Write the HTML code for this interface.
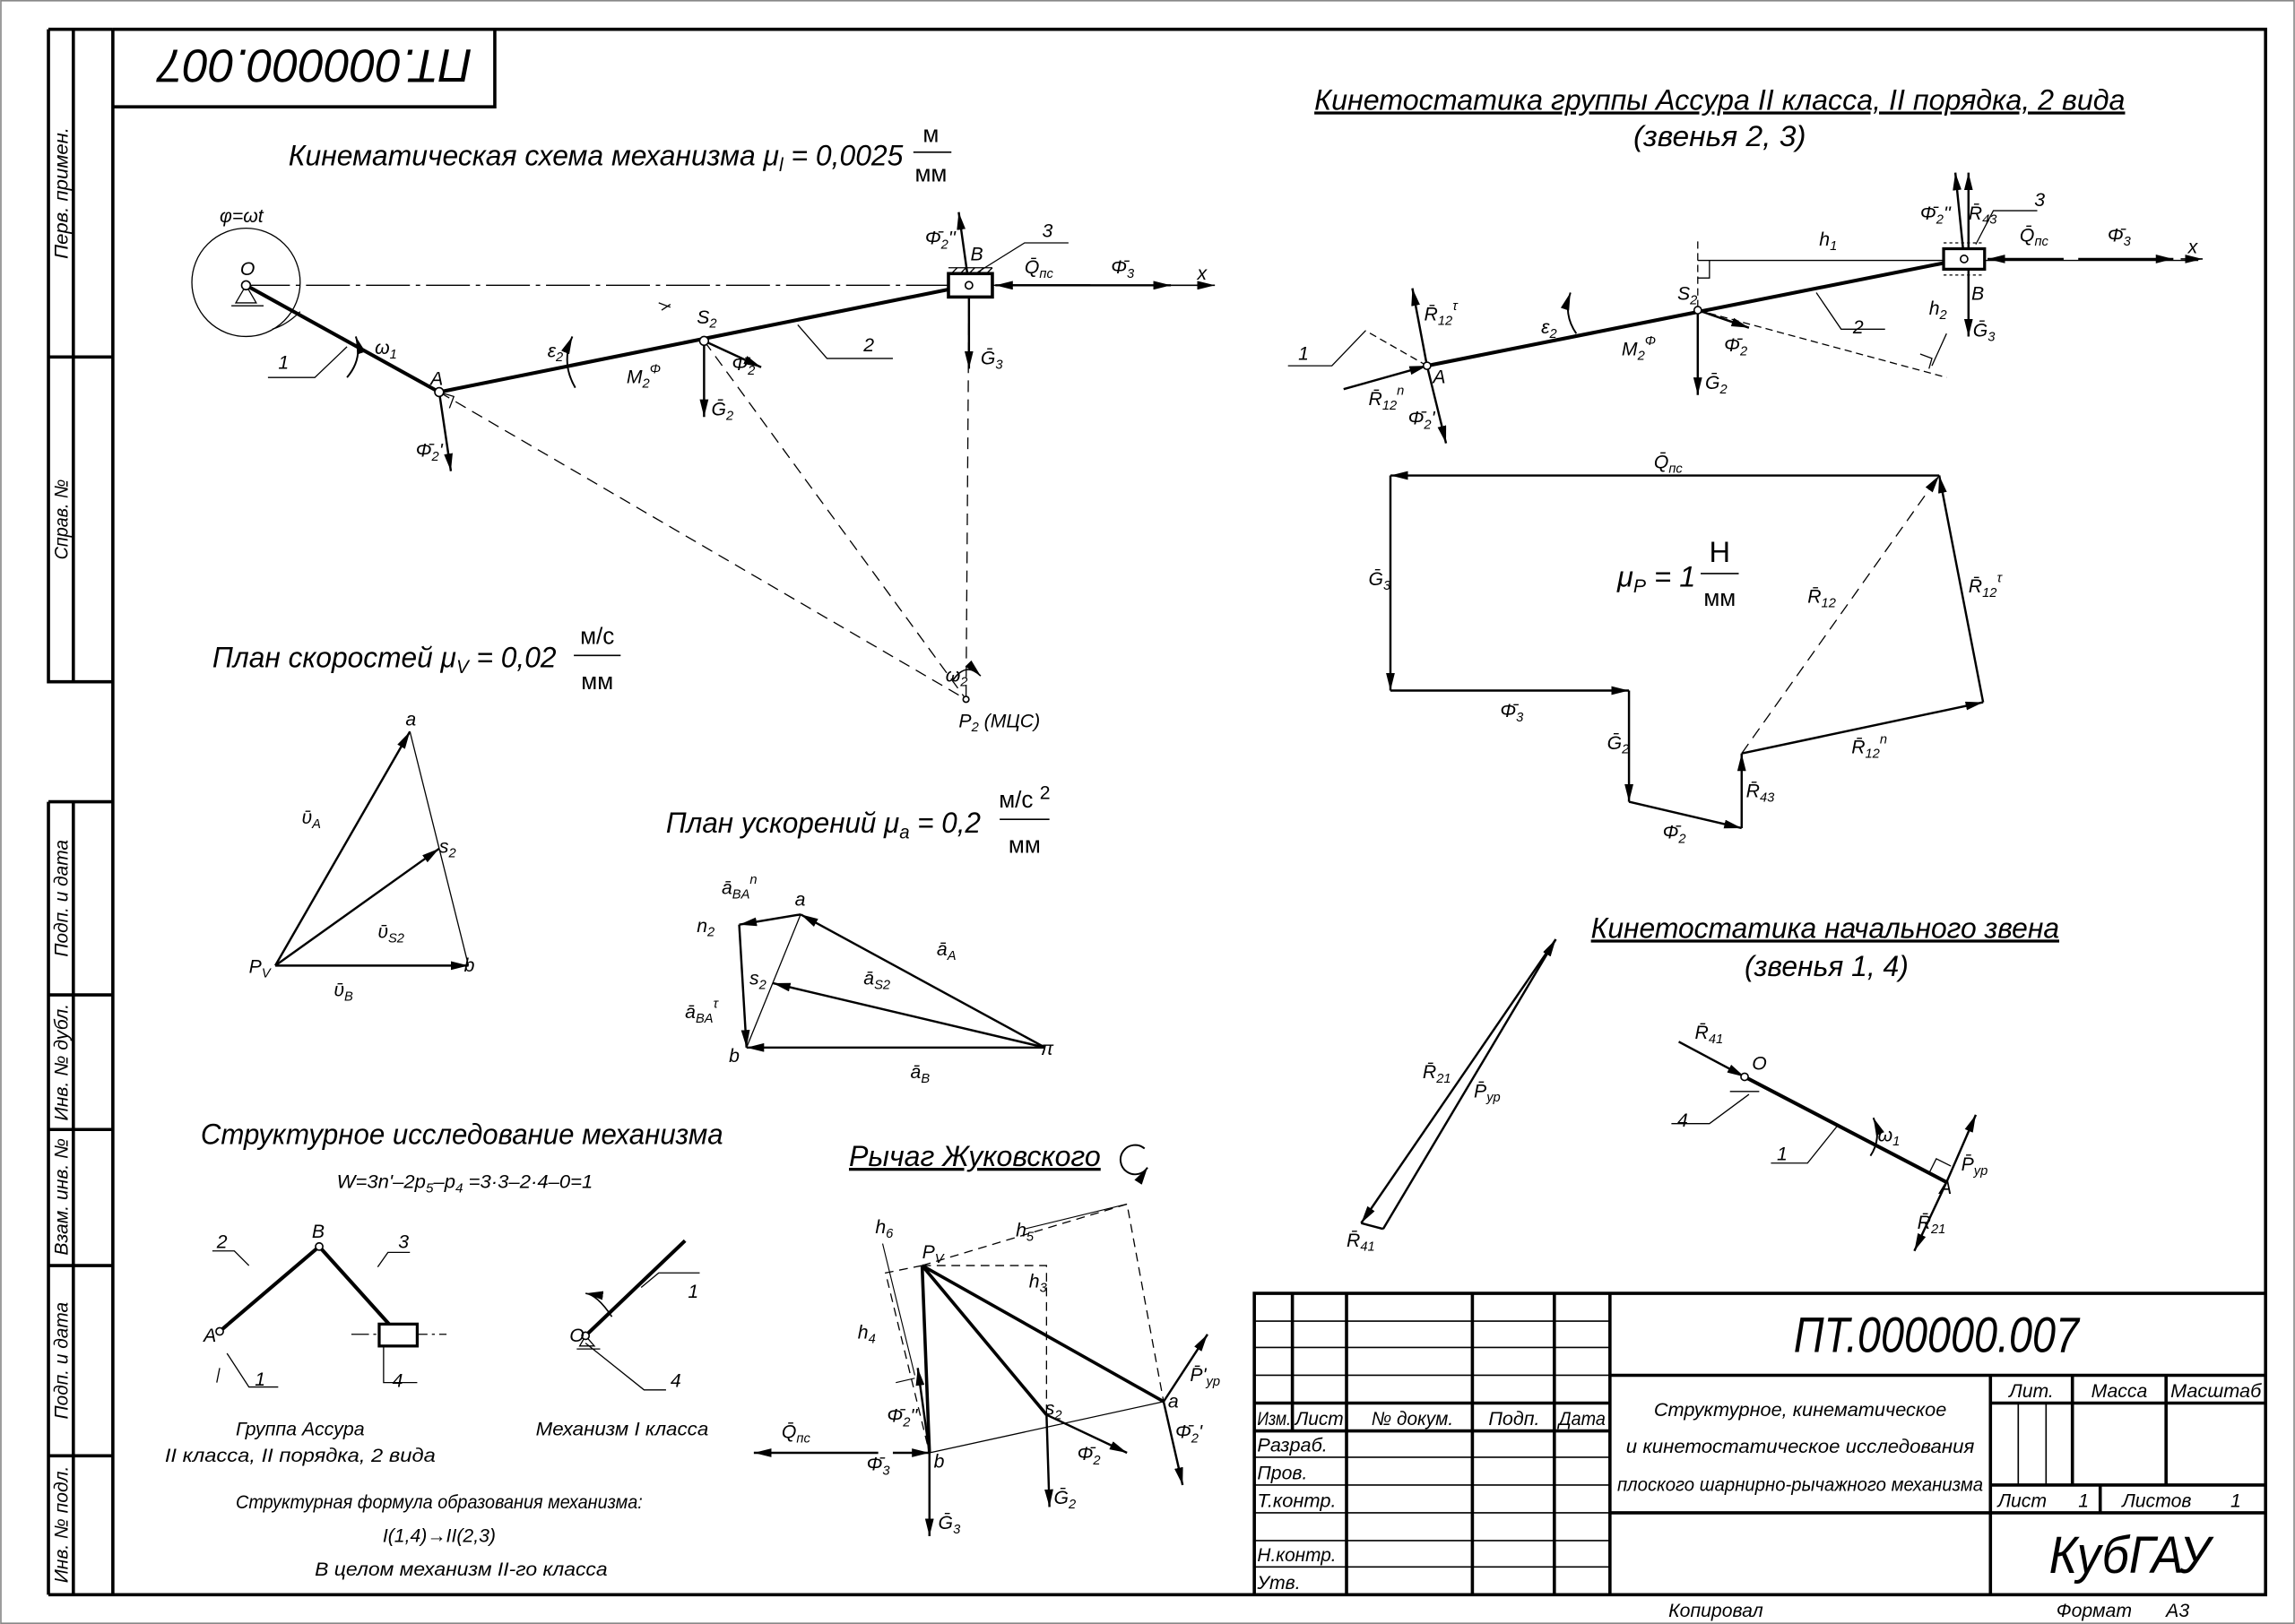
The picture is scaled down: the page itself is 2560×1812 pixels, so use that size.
<!DOCTYPE html>
<html><head><meta charset="utf-8"><style>
html,body{margin:0;padding:0;background:#fff}
svg{display:block}
text{font-family:"Liberation Sans Narrow","Liberation Sans","DejaVu Sans",sans-serif;font-style:italic;fill:#000}
.t{font-size:13px}.m{font-size:16px}.b{font-size:20px}.s{font-size:9px}
.u{font-style:normal}
</style></head><body>
<svg width="2560" height="1812" viewBox="0 0 1568 1110" xmlns="http://www.w3.org/2000/svg">
<defs>
<marker id="ar" markerWidth="12" markerHeight="6" refX="12" refY="3" orient="auto" markerUnits="userSpaceOnUse"><path d="M0,0 L12,3 L0,6 z" fill="#000"/></marker>
</defs>
<rect x="0.5" y="0.5" width="1567" height="1109" fill="none" stroke="#888" stroke-width="1"/>
<!-- frame -->
<g stroke="#000" stroke-width="2.2" fill="none">
<path d="M77,20 H1548 V1090 H33"/>
<path d="M77,20 V1090"/>
<path d="M33,20 H77 M33,20 V466 H77 M33,244 H77"/>
<path d="M33,548 V1090 M33,548 H77 M33,680 H77 M33,772 H77 M33,865 H77 M33,995 H77"/>
<path d="M50,20 V466 M50,548 V1090"/>
<path d="M77,73 H338 V20"/>
</g>
<g class="t">
<text transform="translate(46,132) rotate(-90)" text-anchor="middle" textLength="90" lengthAdjust="spacingAndGlyphs">Перв. примен.</text>
<text transform="translate(46,355) rotate(-90)" text-anchor="middle" textLength="55" lengthAdjust="spacingAndGlyphs">Справ. №</text>
<text transform="translate(46,614) rotate(-90)" text-anchor="middle" textLength="80" lengthAdjust="spacingAndGlyphs">Подп. и дата</text>
<text transform="translate(46,726) rotate(-90)" text-anchor="middle" textLength="80" lengthAdjust="spacingAndGlyphs">Инв. № дубл.</text>
<text transform="translate(46,818) rotate(-90)" text-anchor="middle" textLength="80" lengthAdjust="spacingAndGlyphs">Взам. инв. №</text>
<text transform="translate(46,930) rotate(-90)" text-anchor="middle" textLength="80" lengthAdjust="spacingAndGlyphs">Подп. и дата</text>
<text transform="translate(46,1042) rotate(-90)" text-anchor="middle" textLength="80" lengthAdjust="spacingAndGlyphs">Инв. № подл.</text>
</g>
<text transform="translate(215,34) rotate(180)" text-anchor="middle" style="font-size:32px" textLength="215" lengthAdjust="spacingAndGlyphs">ПТ.000000.007</text>

<!-- title block -->
<g stroke="#000" fill="none">
<path stroke-width="2.2" d="M857,1090 V884 H1548 M1100,884 V1090 M1100,940 H1548 M1360,940 V1090 M1100,1034 H1548 M1360,959 H1548 M1360,1015 H1548 M1416,940 V1015 M1480,940 V1015 M1435,1015 V1034"/>
<path stroke-width="2.2" d="M920,884 V1090 M1006,884 V1090 M1062,884 V1090 M883,884 V978 M857,959 H1100 M857,978 H1100"/>
<path stroke-width="1" d="M857,903 H1100 M857,921 H1100 M857,940 H1100 M857,996 H1100 M857,1015 H1100 M857,1034 H1100 M857,1053 H1100 M857,1071 H1100 M1379,959 V1015 M1398,959 V1015"/>
</g>
<g class="t">
<text x="859" y="974" textLength="23" lengthAdjust="spacingAndGlyphs">Изм.</text><text x="885" y="974" textLength="33" lengthAdjust="spacingAndGlyphs">Лист</text><text x="937" y="974" textLength="56" lengthAdjust="spacingAndGlyphs">№ докум.</text><text x="1017" y="974" textLength="35" lengthAdjust="spacingAndGlyphs">Подп.</text><text x="1065" y="974" textLength="32" lengthAdjust="spacingAndGlyphs">Дата</text>
<text x="859" y="992" textLength="48" lengthAdjust="spacingAndGlyphs">Разраб.</text><text x="859" y="1011">Пров.</text><text x="859" y="1030" textLength="54" lengthAdjust="spacingAndGlyphs">Т.контр.</text><text x="859" y="1067" textLength="54" lengthAdjust="spacingAndGlyphs">Н.контр.</text><text x="859" y="1086">Утв.</text>
<text x="1230" y="968" text-anchor="middle" textLength="200" lengthAdjust="spacingAndGlyphs">Структурное, кинематическое</text>
<text x="1230" y="993" text-anchor="middle" textLength="238" lengthAdjust="spacingAndGlyphs">и кинетостатическое исследования</text>
<text x="1230" y="1019" text-anchor="middle" textLength="250" lengthAdjust="spacingAndGlyphs">плоского шарнирно-рычажного механизма</text>
<text x="1388" y="955" text-anchor="middle">Лит.</text><text x="1448" y="955" text-anchor="middle">Масса</text><text x="1514" y="955" text-anchor="middle" textLength="62" lengthAdjust="spacingAndGlyphs">Масштаб</text>
<text x="1365" y="1030">Лист</text><text x="1420" y="1030">1</text><text x="1450" y="1030">Листов</text><text x="1524" y="1030">1</text>
<text x="1140" y="1105">Копировал</text><text x="1405" y="1105">Формат</text><text x="1480" y="1105">А3</text>
</g>
<text x="1323" y="924" text-anchor="middle" style="font-size:34px" textLength="195" lengthAdjust="spacingAndGlyphs">ПТ.000000.007</text>
<text x="1455" y="1075" text-anchor="middle" style="font-size:36px" textLength="110" lengthAdjust="spacingAndGlyphs">КубГАУ</text>

<!-- Kinematic scheme -->
<text x="197" y="113" class="b" textLength="420" lengthAdjust="spacingAndGlyphs">Кинематическая схема механизма μ<tspan class="t" dy="4">l</tspan><tspan dy="-4"> = 0,0025</tspan></text>
<text x="636" y="97" class="m u" text-anchor="middle">м</text><line x1="624" y1="104" x2="650" y2="104" stroke="#000"/><text x="636" y="124" class="m u" text-anchor="middle">мм</text>
<circle cx="168" cy="193" r="37" fill="none" stroke="#000" stroke-width="0.8"/>
<text x="150" y="152" class="t">φ=ωt</text><text x="164" y="188" class="t">O</text>
<line x1="168" y1="195" x2="830" y2="195" stroke="#000" stroke-width="0.8" stroke-dasharray="30,4,3,4"/>
<path d="M168,195 L161,207 H175 Z M158,209 H180" stroke="#000" fill="none" stroke-width="0.8"/>
<g stroke="#000" fill="none">
<path d="M168,195 L300,268 L662,195" stroke-width="2.5"/>
<path d="M237,237 L215,258 H183 M545,222 L565,245 H610 M668,186 L700,166 H730" stroke-width="0.8"/>
<path d="M300,268 L308,322" stroke-width="1.5" marker-end="url(#ar)"/>
<path d="M300,268 L660,478 M481,233 L660,478 M662,195 L660,478" stroke-width="0.8" stroke-dasharray="8,5"/>
<path d="M481,233 V285" stroke-width="1.5" marker-end="url(#ar)"/>
<path d="M481,233 L520,251" stroke-width="1.5" marker-end="url(#ar)"/>
<path d="M662,195 L655,145" stroke-width="1.5" marker-end="url(#ar)"/>
<path d="M745,195 H680" stroke-width="1.5" marker-end="url(#ar)"/>
<path d="M685,195 H800" stroke-width="1.5" marker-end="url(#ar)"/>
<path d="M800,195 H830" stroke-width="1" marker-end="url(#ar)"/>
<path d="M662,195 V252" stroke-width="1.5" marker-end="url(#ar)"/>
<path d="M237,258 Q248,245 243,230" stroke-width="1.2" marker-end="url(#ar)"/>
<path d="M393,265 Q383,248 391,230" stroke-width="1.2" marker-end="url(#ar)"/>
<path d="M651,465 Q660,452 670,462" stroke-width="1" marker-end="url(#ar)"/>
<path d="M205,213 Q196,222 186,225" stroke-width="0.8"/>
<path d="M300,268 l10,3 l-3,8" stroke-width="0.8"/>
<path d="M452,212 l6,-4 M450,207 l8,3" stroke-width="0.8"/>
</g>
<rect x="648" y="187" width="30" height="16" fill="#fff" stroke="#000" stroke-width="2.2"/>
<path d="M648,183 H678 M650,187 l4,-4 M656,187 l4,-4 M662,187 l4,-4 M668,187 l4,-4 M674,187 l4,-4" stroke="#000" stroke-width="0.8"/>
<circle cx="662" cy="195" r="2.5" fill="#fff" stroke="#000"/>
<circle cx="300" cy="268" r="3" fill="#fff" stroke="#000"/>
<circle cx="168" cy="195" r="3" fill="#fff" stroke="#000"/>
<circle cx="481" cy="233" r="3" fill="#fff" stroke="#000"/>
<circle cx="660" cy="478" r="2" fill="#fff" stroke="#000"/>
<g class="t">
<text x="190" y="252">1</text><text x="256" y="242">ω<tspan class="s" dy="3">1</tspan></text><text x="294" y="263">A</text>
<text x="284" y="312">Φ̄<tspan class="s" dy="3">2</tspan><tspan dy="-3">'</tspan></text>
<text x="374" y="244">ε<tspan class="s" dy="3">2</tspan></text>
<text x="428" y="262">M<tspan class="s" dy="3">2</tspan><tspan class="s" dy="-10">Φ</tspan></text>
<text x="476" y="221">S<tspan class="s" dy="3">2</tspan></text>
<text x="486" y="284">Ḡ<tspan class="s" dy="3">2</tspan></text>
<text x="500" y="253">Φ̄<tspan class="s" dy="3">2</tspan></text>
<text x="590" y="240">2</text>
<text x="632" y="167">Φ̄<tspan class="s" dy="3">2</tspan><tspan dy="-3">''</tspan></text>
<text x="663" y="178">B</text><text x="712" y="162">3</text>
<text x="700" y="187">Q̄<tspan class="s" dy="3">пс</tspan></text>
<text x="759" y="187">Φ̄<tspan class="s" dy="3">3</tspan></text>
<text x="818" y="191">x</text>
<text x="670" y="249">Ḡ<tspan class="s" dy="3">3</tspan></text>
<text x="646" y="466">ω<tspan class="s" dy="3">2</tspan></text>
<text x="655" y="497">P<tspan class="s" dy="3">2</tspan><tspan dy="-3"> (МЦС)</tspan></text>
</g>

<!-- velocity plan -->
<text x="145" y="456" class="b" textLength="235" lengthAdjust="spacingAndGlyphs">План скоростей μ<tspan class="t" dy="4">V</tspan><tspan dy="-4"> = 0,02</tspan></text>
<text x="408" y="440" class="m u" text-anchor="middle">м/с</text><line x1="392" y1="448" x2="424" y2="448" stroke="#000"/><text x="408" y="471" class="m u" text-anchor="middle">мм</text>
<g stroke="#000" fill="none" stroke-width="1.5">
<path d="M188,660 L280,500" marker-end="url(#ar)"/>
<path d="M188,660 L320,660" marker-end="url(#ar)"/>
<path d="M188,660 L300,580" marker-end="url(#ar)"/>
<path d="M280,500 L320,660" stroke-width="0.8"/>
</g>
<g class="t"><text x="277" y="496">a</text><text x="300" y="583">s<tspan class="s" dy="3">2</tspan></text><text x="317" y="664">b</text><text x="170" y="665">P<tspan class="s" dy="3">V</tspan></text>
<text x="206" y="563">ῡ<tspan class="s" dy="3">A</tspan></text><text x="258" y="641">ῡ<tspan class="s" dy="3">S2</tspan></text><text x="228" y="681">ῡ<tspan class="s" dy="3">B</tspan></text></g>

<!-- acceleration plan -->
<text x="455" y="569" class="b" textLength="215" lengthAdjust="spacingAndGlyphs">План ускорений μ<tspan class="t" dy="4">a</tspan><tspan dy="-4"> = 0,2</tspan></text>
<text x="700" y="552" class="m u" text-anchor="middle">м/с <tspan class="t" dy="-6">2</tspan></text><line x1="683" y1="560" x2="717" y2="560" stroke="#000"/><text x="700" y="583" class="m u" text-anchor="middle">мм</text>
<g stroke="#000" fill="none" stroke-width="1.5">
<path d="M714,716 L547,625" marker-end="url(#ar)"/>
<path d="M714,716 L510,716" marker-end="url(#ar)"/>
<path d="M714,716 L528,672" marker-end="url(#ar)"/>
<path d="M547,625 L505,632" marker-end="url(#ar)"/>
<path d="M505,632 L510,716" marker-end="url(#ar)"/>
<path d="M547,625 L510,716" stroke-width="0.8"/>
</g>
<g class="t"><text x="543" y="619">a</text><text x="476" y="637">n<tspan class="s" dy="3">2</tspan></text><text x="512" y="673">s<tspan class="s" dy="3">2</tspan></text><text x="498" y="726">b</text><text x="711" y="721">π</text>
<text x="493" y="611">ā<tspan class="s" dy="3">BA</tspan><tspan class="s" dy="-10">n</tspan></text><text x="640" y="653">ā<tspan class="s" dy="3">A</tspan></text><text x="590" y="673">ā<tspan class="s" dy="3">S2</tspan></text><text x="468" y="696">ā<tspan class="s" dy="3">BA</tspan><tspan class="s" dy="-10">τ</tspan></text><text x="622" y="737">ā<tspan class="s" dy="3">B</tspan></text></g>

<!-- structural -->
<text x="137" y="782" class="b" textLength="357" lengthAdjust="spacingAndGlyphs">Структурное исследование механизма</text>
<text x="230" y="812" class="t" textLength="175" lengthAdjust="spacingAndGlyphs">W=3n'–2p<tspan class="s" dy="3">5</tspan><tspan dy="-3">–p</tspan><tspan class="s" dy="3">4</tspan><tspan dy="-3"> =3·3–2·4–0=1</tspan></text>
<g stroke="#000" fill="none">
<path d="M150,910 L218,852 L272,912" stroke-width="2.5"/>
<path d="M240,912 H305" stroke-width="0.8" stroke-dasharray="12,3,2,3"/>
<path d="M170,865 L160,855 H145 M258,866 L265,856 H280 M150,935 L148,945 M155,925 L170,948 H190 M262,912 L262,945 H285" stroke-width="0.8"/>
<path d="M400,913 L468,848" stroke-width="2.5"/>
<path d="M400,913 L396,920 H406 Z M394,922 H410 M400,918 L440,950 H455 M438,880 L450,870 H478" stroke-width="0.8"/>
<path d="M418,900 Q408,885 400,884" stroke-width="1" marker-end="url(#ar)"/>
</g>
<rect x="259" y="905" width="26" height="15" fill="#fff" stroke="#000" stroke-width="2"/>
<circle cx="150" cy="910" r="2.5" fill="#fff" stroke="#000"/><circle cx="218" cy="852" r="2.5" fill="#fff" stroke="#000"/><circle cx="400" cy="913" r="2.5" fill="#fff" stroke="#000"/>
<g class="t"><text x="148" y="853">2</text><text x="272" y="853">3</text><text x="213" y="846">B</text><text x="139" y="917">A</text><text x="174" y="947">1</text><text x="268" y="948">4</text><text x="470" y="887">1</text><text x="458" y="948">4</text><text x="389" y="917">O</text>
<text x="205" y="981" text-anchor="middle" textLength="88" lengthAdjust="spacingAndGlyphs">Группа Ассура</text><text x="205" y="999" text-anchor="middle" textLength="185" lengthAdjust="spacingAndGlyphs">II класса, II порядка, 2 вида</text>
<text x="425" y="981" text-anchor="middle" textLength="118" lengthAdjust="spacingAndGlyphs">Механизм I класса</text>
<text x="300" y="1031" text-anchor="middle" textLength="278" lengthAdjust="spacingAndGlyphs">Структурная формула образования механизма:</text>
<text x="300" y="1054" text-anchor="middle">I(1,4)→II(2,3)</text>
<text x="315" y="1077" text-anchor="middle" textLength="200" lengthAdjust="spacingAndGlyphs">В целом механизм II-го класса</text></g>

<!-- Zhukovsky -->
<text x="580" y="797" class="b" style="text-decoration:underline" textLength="172" lengthAdjust="spacingAndGlyphs">Рычаг Жуковского</text>
<path d="M782,785 A10,10 0 1 0 784,798" fill="none" stroke="#000" stroke-width="1.2" marker-end="url(#ar)"/>
<g stroke="#000" fill="none">
<path d="M630,865 L795,958 M630,865 L715,967 M630,865 L635,993" stroke-width="2.2"/>
<path d="M635,993 L795,958" stroke-width="0.8"/>
<path d="M630,865 L770,823 L795,958 M630,865 L605,870 L635,993 M630,865 H715 V967" stroke-width="0.8" stroke-dasharray="6,4"/>
<path d="M603,850 L625,940 M700,840 L770,823 M625,942 L612,945" stroke-width="0.7"/>
<path d="M600,993 H515" stroke-width="1.5" marker-end="url(#ar)"/>
<path d="M610,993 H635" stroke-width="1.5" marker-end="url(#ar)"/>
<path d="M635,993 V1050" stroke-width="1.5" marker-end="url(#ar)"/>
<path d="M635,993 L627,935" stroke-width="1.5" marker-end="url(#ar)"/>
<path d="M715,967 L717,1030" stroke-width="1.5" marker-end="url(#ar)"/>
<path d="M715,967 L770,993" stroke-width="1.5" marker-end="url(#ar)"/>
<path d="M795,958 L825,912" stroke-width="1.5" marker-end="url(#ar)"/>
<path d="M795,958 L808,1015" stroke-width="1.5" marker-end="url(#ar)"/>
</g>
<g class="t"><text x="630" y="860">P<tspan class="s" dy="3">V</tspan></text><text x="798" y="962">a</text><text x="714" y="967">s<tspan class="s" dy="3">2</tspan></text><text x="638" y="1003">b</text>
<text x="598" y="843">h<tspan class="s" dy="3">6</tspan></text><text x="694" y="845">h<tspan class="s" dy="3">5</tspan></text><text x="703" y="880">h<tspan class="s" dy="3">3</tspan></text><text x="586" y="915">h<tspan class="s" dy="3">4</tspan></text>
<text x="534" y="983">Q̄<tspan class="s" dy="3">пс</tspan></text><text x="592" y="1005">Φ̄<tspan class="s" dy="3">3</tspan></text><text x="641" y="1045">Ḡ<tspan class="s" dy="3">3</tspan></text><text x="606" y="972">Φ̄<tspan class="s" dy="3">2</tspan><tspan dy="-3">''</tspan></text><text x="720" y="1028">Ḡ<tspan class="s" dy="3">2</tspan></text><text x="736" y="998">Φ̄<tspan class="s" dy="3">2</tspan></text><text x="813" y="944">P̄'<tspan class="s" dy="3">ур</tspan></text><text x="803" y="983">Φ̄<tspan class="s" dy="3">2</tspan><tspan dy="-3">'</tspan></text></g>

<!-- kinetostatics group -->
<text x="898" y="75" class="b" style="text-decoration:underline" textLength="554" lengthAdjust="spacingAndGlyphs">Кинетостатика группы Ассура II класса, II порядка, 2 вида</text>
<text x="1175" y="100" class="b" text-anchor="middle" textLength="118" lengthAdjust="spacingAndGlyphs">(звенья 2, 3)</text>
<g stroke="#000" fill="none">
<path d="M975,250 L1342,177" stroke-width="2.5"/>
<path d="M1160,178 H1330 M1160,190 h8 v-12 M1502,178 H1330" stroke-width="0.8"/>
<path d="M1160,165 V212 M1160,212 L1330,258 M975,250 L933,226" stroke-width="0.8" stroke-dasharray="5,3"/>
<path d="M933,226 L910,250 H880 M1241,200 L1258,225 H1288 M1350,167 L1362,144 H1392 M1320,250 L1330,228 M1312,242 l8,3 l-2,7" stroke-width="0.8"/>
<path d="M918,266 L975,250" stroke-width="1.5" marker-end="url(#ar)"/>
<path d="M975,250 L965,197" stroke-width="1.5" marker-end="url(#ar)"/>
<path d="M975,250 L988,303" stroke-width="1.5" marker-end="url(#ar)"/>
<path d="M1160,212 V270" stroke-width="1.5" marker-end="url(#ar)"/>
<path d="M1160,212 L1195,224" stroke-width="1.5" marker-end="url(#ar)"/>
<path d="M1342,177 L1336,118" stroke-width="1.5" marker-end="url(#ar)"/>
<path d="M1345,177 L1345,118" stroke-width="1.5" marker-end="url(#ar)"/>
<path d="M1345,177 V230" stroke-width="1.5" marker-end="url(#ar)"/>
<path d="M1410,177 H1358" stroke-width="1.5" marker-end="url(#ar)"/>
<path d="M1420,177 H1485" stroke-width="1.5" marker-end="url(#ar)"/>
<path d="M1490,177 H1505" stroke-width="1" marker-end="url(#ar)"/>
<path d="M1077,228 Q1068,215 1073,200" stroke-width="1.2" marker-end="url(#ar)"/>
</g>
<rect x="1328" y="170" width="28" height="14" fill="#fff" stroke="#000" stroke-width="2"/>
<path d="M1328,166 H1356 M1328,188 H1356" stroke="#000" stroke-width="0.8" stroke-dasharray="2,2"/>
<circle cx="1342" cy="177" r="2.5" fill="#fff" stroke="#000"/><circle cx="975" cy="250" r="2.5" fill="#fff" stroke="#000"/><circle cx="1160" cy="212" r="2.5" fill="#fff" stroke="#000"/>
<g class="t"><text x="887" y="246">1</text><text x="979" y="262">A</text><text x="935" y="277">R̄<tspan class="s" dy="3">12</tspan><tspan class="s" dy="-10">n</tspan></text><text x="973" y="219">R̄<tspan class="s" dy="3">12</tspan><tspan class="s" dy="-10">τ</tspan></text><text x="962" y="290">Φ̄<tspan class="s" dy="3">2</tspan><tspan dy="-3">'</tspan></text>
<text x="1053" y="228">ε<tspan class="s" dy="3">2</tspan></text><text x="1108" y="243">M<tspan class="s" dy="3">2</tspan><tspan class="s" dy="-10">Φ</tspan></text><text x="1146" y="205">S<tspan class="s" dy="3">2</tspan></text><text x="1165" y="266">Ḡ<tspan class="s" dy="3">2</tspan></text><text x="1178" y="240">Φ̄<tspan class="s" dy="3">2</tspan></text>
<text x="1266" y="228">2</text><text x="1243" y="168">h<tspan class="s" dy="3">1</tspan></text><text x="1318" y="215">h<tspan class="s" dy="3">2</tspan></text><text x="1347" y="205">B</text><text x="1348" y="230">Ḡ<tspan class="s" dy="3">3</tspan></text>
<text x="1312" y="150">Φ̄<tspan class="s" dy="3">2</tspan><tspan dy="-3">''</tspan></text><text x="1345" y="150">R̄<tspan class="s" dy="3">43</tspan></text><text x="1390" y="141">3</text><text x="1380" y="165">Q̄<tspan class="s" dy="3">пс</tspan></text><text x="1440" y="165">Φ̄<tspan class="s" dy="3">3</tspan></text><text x="1495" y="173">x</text></g>

<!-- force polygon -->
<g stroke="#000" fill="none" stroke-width="1.5">
<path d="M1325,325 H950" marker-end="url(#ar)"/>
<path d="M950,325 V472" marker-end="url(#ar)"/>
<path d="M950,472 H1113" marker-end="url(#ar)"/>
<path d="M1113,472 V548" marker-end="url(#ar)"/>
<path d="M1113,548 L1190,566" marker-end="url(#ar)"/>
<path d="M1190,566 V515" marker-end="url(#ar)"/>
<path d="M1190,515 L1355,480" marker-end="url(#ar)"/>
<path d="M1355,480 L1325,325" marker-end="url(#ar)"/>
<path d="M1190,515 L1325,325" stroke-width="0.8" stroke-dasharray="8,5" marker-end="url(#ar)"/>
</g>
<g class="t"><text x="1130" y="320">Q̄<tspan class="s" dy="3">пс</tspan></text><text x="935" y="400">Ḡ<tspan class="s" dy="3">3</tspan></text><text x="1025" y="490">Φ̄<tspan class="s" dy="3">3</tspan></text><text x="1098" y="512">Ḡ<tspan class="s" dy="3">2</tspan></text><text x="1136" y="573">Φ̄<tspan class="s" dy="3">2</tspan></text><text x="1193" y="545">R̄<tspan class="s" dy="3">43</tspan></text><text x="1265" y="515">R̄<tspan class="s" dy="3">12</tspan><tspan class="s" dy="-10">n</tspan></text><text x="1235" y="412">R̄<tspan class="s" dy="3">12</tspan></text><text x="1345" y="405">R̄<tspan class="s" dy="3">12</tspan><tspan class="s" dy="-10">τ</tspan></text></g>
<text x="1105" y="401" class="b">μ<tspan class="t" dy="4">P</tspan><tspan dy="-4"> = 1</tspan></text>
<text x="1175" y="384" class="b u" text-anchor="middle">Н</text><line x1="1162" y1="392" x2="1188" y2="392" stroke="#000"/><text x="1175" y="414" class="m u" text-anchor="middle">мм</text>

<!-- initial link -->
<text x="1087" y="641" class="b" style="text-decoration:underline" textLength="320" lengthAdjust="spacingAndGlyphs">Кинетостатика начального звена</text>
<text x="1248" y="667" class="b" text-anchor="middle" textLength="112" lengthAdjust="spacingAndGlyphs">(звенья 1, 4)</text>
<g stroke="#000" fill="none">
<path d="M1063,642 L930,836" stroke-width="1.5" marker-end="url(#ar)"/>
<path d="M945,840 L1063,642" stroke-width="1.5" marker-end="url(#ar)"/>
<path d="M930,836 L945,840" stroke-width="1.5"/>
<path d="M1192,736 L1330,808" stroke-width="2.5"/>
<path d="M1147,712 L1192,736" stroke-width="1.5" marker-end="url(#ar)"/>
<path d="M1330,808 L1350,762" stroke-width="1.5" marker-end="url(#ar)"/>
<path d="M1330,808 L1308,855" stroke-width="1.5" marker-end="url(#ar)"/>
<path d="M1182,746 H1202 M1195,748 L1168,768 H1142 M1255,770 L1235,795 H1210" stroke-width="0.8"/>
<path d="M1278,790 Q1286,778 1280,764" stroke-width="1.2" marker-end="url(#ar)"/>
<path d="M1318,802 l5,-10 l10,5" stroke-width="0.8"/>
</g>
<circle cx="1192" cy="736" r="2.5" fill="#fff" stroke="#000"/>
<g class="t"><text x="972" y="737">R̄<tspan class="s" dy="3">21</tspan></text><text x="1007" y="750">P̄<tspan class="s" dy="3">ур</tspan></text><text x="920" y="852">R̄<tspan class="s" dy="3">41</tspan></text>
<text x="1158" y="710">R̄<tspan class="s" dy="3">41</tspan></text><text x="1197" y="731">O</text><text x="1146" y="770">4</text><text x="1214" y="793">1</text><text x="1283" y="780">ω<tspan class="s" dy="3">1</tspan></text><text x="1325" y="816">A</text><text x="1340" y="800">P̄<tspan class="s" dy="3">ур</tspan></text><text x="1310" y="840">R̄<tspan class="s" dy="3">21</tspan></text></g>
</svg>
</body></html>
